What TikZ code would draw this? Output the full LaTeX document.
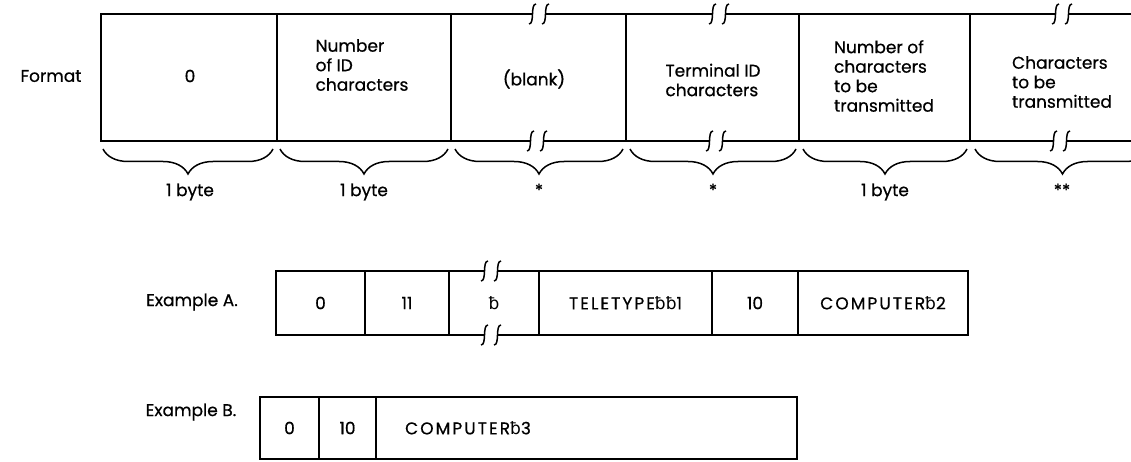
\documentclass[tikz,border=0pt]{standalone}
\usepackage{fontspec}
\setmainfont{Poppins}[FakeBold=0.6]
\newfontfamily\bsfont{DejaVu Sans}
\newcommand\blankb{{\bsfont ƀ}}
\newcommand\capsp{\addfontfeature{LetterSpace=12}}
\usetikzlibrary{decorations.pathreplacing}
\begin{document}
\begin{tikzpicture}[x=1pt,y=-1pt,
  every node/.style={font=\fontsize{17}{19.5}\selectfont, inner sep=0pt, outer sep=0pt},
  cellbox/.style={draw, line width=1.5pt, anchor=north west, inner sep=0pt, outer sep=0pt},
  openline/.style={line width=1.5pt},
  txt/.style={align=left},
  bracedown/.style={decorate, decoration={brace, mirror, amplitude=25pt}, line width=1.5pt},
  brk/.pic={
    \fill[white] (-6.5,-2.6) rectangle (6.5,2.6);
    \draw[line width=1.5pt] (-10,10) .. controls (-4,10) and (-9,-10) .. (-3,-10);
    \draw[line width=1.5pt] (3,10) .. controls (9,10) and (4,-10) .. (10,-10);
  }]
\useasboundingbox (0,0) rectangle (1131,462);

% ---------- Format ----------
\node (flabel) at (51,76) {Format};
\node[cellbox, minimum width=176pt, minimum height=127pt] (f1) at (101,14) {};
\node[cellbox, minimum width=174pt, minimum height=127pt] (f2) at (277,14) {};
\node[cellbox, minimum width=175pt, minimum height=127pt] (f3) at (451,14) {};
\node[cellbox, minimum width=173pt, minimum height=127pt] (f4) at (626,14) {};
\node[cellbox, minimum width=171pt, minimum height=127pt] (f5) at (799,14) {};
\node[anchor=north west, minimum width=190pt, minimum height=127pt] (f6) at (970,14) {};
\draw[openline] (f6.north west) -- (f6.north east);
\draw[openline] (f6.south west) -- (f6.south east);

\node (t1) at (190,76) {0};
\node[txt] (t2) at (362,65) {Number\\of ID\\characters};
\node (t3) at (534,79) {(blank)};
\node[txt] (t4) at (713,80) {Terminal ID\\characters};
\node[txt] (t5) at (884,76) {Number of\\characters\\to be\\transmitted};
\node[txt] (t6) at (1062,82) {Characters\\to be\\transmitted};

\pic at (539,14) {brk};
\pic at (537,141) {brk};
\pic at (719,14) {brk};
\pic at (716,141) {brk};
\pic at (1062,14) {brk};
\pic at (1060,141) {brk};

% ---------- braces ----------
\coordinate (c1a) at (103,149); \coordinate (c1b) at (273,149);
\coordinate (c2a) at (280,149); \coordinate (c2b) at (448,149);
\coordinate (c3a) at (455,149); \coordinate (c3b) at (623,149);
\coordinate (c4a) at (630,149); \coordinate (c4b) at (796,149);
\coordinate (c5a) at (803,149); \coordinate (c5b) at (967,149);
\coordinate (c6a) at (975,149); \coordinate (c6b) at (1150,149);
\draw[bracedown] (c1a) -- (c1b);
\draw[bracedown] (c2a) -- (c2b);
\draw[bracedown] (c3a) -- (c3b);
\draw[bracedown] (c4a) -- (c4b);
\draw[bracedown] (c5a) -- (c5b);
\draw[bracedown] (c6a) -- (c6b);
\node (l1) at (190,192) {1 byte};
\node (l2) at (364,192) {1 byte};
\node (l3) at (539,190) {*};
\node (l4) at (713,190) {*};
\node (l5) at (885,192) {1 byte};
\node (l6) at (1062,190) {**};

% ---------- Example A ----------
\node (alabel) at (192,302) {Example A.};
\node[cellbox, minimum width=89pt, minimum height=64pt] (a1) at (276,271) {0};
\node[cellbox, minimum width=84pt, minimum height=64pt] (a2) at (365,271) {11};
\node[cellbox, minimum width=90pt, minimum height=64pt] (a3) at (449,271) {\blankb};
\node[cellbox, minimum width=173pt, minimum height=64pt] (a4) at (539,271) {\capsp TELETYPE\blankb\blankb 1};
\node[cellbox, minimum width=86pt, minimum height=64pt] (a5) at (712,271) {10};
\node[cellbox, minimum width=170pt, minimum height=64pt] (a6) at (798,271) {\capsp COMPUTER\blankb 2};
\pic at (491,271) {brk};
\pic at (491,335) {brk};

% ---------- Example B ----------
\node (blabel) at (191,412) {Example B.};
\node[cellbox, minimum width=59pt, minimum height=62pt] (b1) at (260,397) {0};
\node[cellbox, minimum width=57pt, minimum height=62pt] (b2) at (319,397) {10};
\node[cellbox, minimum width=421pt, minimum height=62pt] (b3) at (376,397) {};
\node (b3t) at (468,428) {\capsp COMPUTER\blankb 3};
\end{tikzpicture}
\end{document}
